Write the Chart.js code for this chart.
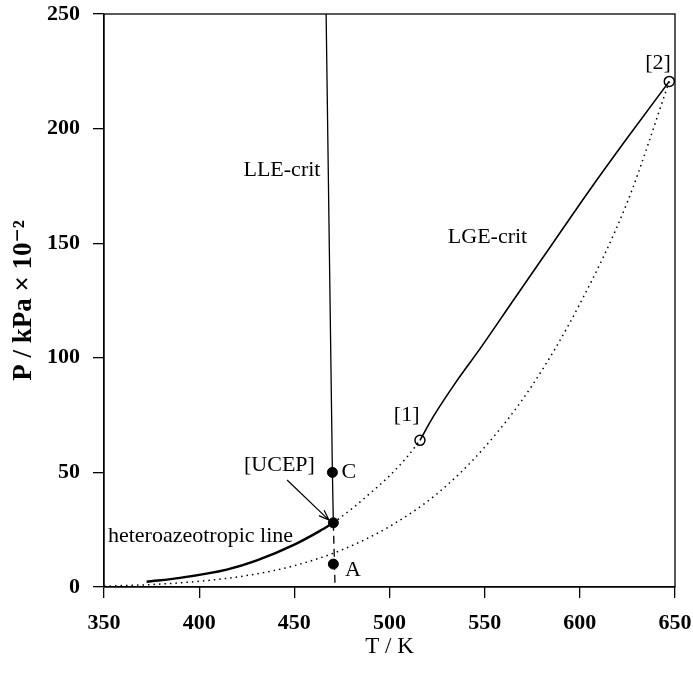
<!DOCTYPE html>
<html lang="en">
<head>
  <meta charset="UTF-8" />
  <title>P–T phase diagram</title>
  <script src="https://cdn.jsdelivr.net/npm/chart.js"></script>
  <style>
    body {
      margin: 0;
      padding: 0;
      background: #fff;
    }

    #chart-container {
      width: 693px;
      height: 673px;
    }
  </style>
</head>
<body>
  <div id="chart-container">
    <canvas id="ptChart" width="693" height="673"></canvas>
  </div>

  <script>
    // Axis ranges and ticks
    const xTicks = [350, 400, 450, 500, 550, 600, 650];
    const yTicks = [0, 50, 100, 150, 200, 250];

    // LLE critical line (solid above the UCEP, dashed below)
    const lleCritT = [466.7, 470.0, 470.5];
    const lleCritP = [250, 50, 28];
    const lleMetaT = [470.5, 471.4];
    const lleMetaP = [28, 0];

    // heteroazeotropic line, ends at the UCEP
    const heteroT = [372.4, 390, 414.5, 430, 450, 463.5, 470.5];
    const heteroP = [2.3, 4.0, 7.6, 11.5, 18.5, 24.5, 28];

    // vapour pressure curve of component 1 (UCEP -> [1])
    const vap1T = [470.5, 480, 490, 500, 510, 516];
    const vap1P = [28, 34, 41, 48.5, 57.5, 64];

    // vapour pressure curve of component 2 (-> [2])
    const vap2T = [350, 373, 400, 425, 450, 475, 500, 525, 550, 575, 600, 625, 647];
    const vap2P = [0.4, 1.0, 2.5, 5.0, 9.3, 16.2, 26.4, 40.7, 61, 88, 123.5, 168, 220.6];

    // LGE critical line from [1] to [2]
    const lgeCritT = [516, 523, 535, 547.6, 565, 585, 605, 625, 647];
    const lgeCritP = [64, 74.3, 89.5, 104, 125, 149, 173, 196, 220.6];

    // filled points: C, UCEP, A
    const filledT = [470.0, 470.5, 470.5];
    const filledP = [50, 28, 10];

    // open points: critical points [1] and [2]
    const openT = [516, 647];
    const openP = [64, 220.6];

    // text labels
    const labelText = ["LLE-crit", "LGE-crit", "[UCEP]", "C", "A", "[1]", "[2]", "heteroazeotropic line"];
    const labelT = [443.5, 551.5, 442.2, 478.7, 480.8, 509.0, 641.1, 400.7];
    const labelP = [182, 152.7, 53.2, 50.2, 7.4, 75, 228.6, 22.3];

    // arrow pointing at the UCEP
    const arrowT = [446.2, 468.2];
    const arrowP = [46.7, 29.2];

    const pts = (xs, ys) => xs.map((x, i) => ({ x: x, y: ys[i] }));
    const serif = "'Liberation Serif', 'DejaVu Serif', serif";

    const lineSet = (data, extra) => Object.assign({
      data: data,
      showLine: true,
      borderColor: "#000",
      borderWidth: 1.3,
      pointRadius: 0,
      fill: false,
      tension: 0,
    }, extra);

    // frame, labels and arrow
    const annotations = {
      id: "annotations",
      afterDatasetsDraw(chart) {
        const { ctx, chartArea: a, scales } = chart;
        const xs = scales.x, ys = scales.y;
        ctx.save();
        ctx.strokeStyle = "#000";
        ctx.lineWidth = 1.3;
        ctx.strokeRect(a.left, a.top, a.right - a.left, a.bottom - a.top);

        // arrow
        const x0 = xs.getPixelForValue(arrowT[0]), y0 = ys.getPixelForValue(arrowP[0]);
        const x1 = xs.getPixelForValue(arrowT[1]), y1 = ys.getPixelForValue(arrowP[1]);
        ctx.lineWidth = 1.2;
        ctx.beginPath();
        ctx.moveTo(x0, y0);
        ctx.lineTo(x1, y1);
        const ang = Math.atan2(y1 - y0, x1 - x0);
        const hl = 11, hw = 0.35;
        ctx.moveTo(x1 - hl * Math.cos(ang - hw), y1 - hl * Math.sin(ang - hw));
        ctx.lineTo(x1, y1);
        ctx.lineTo(x1 - hl * Math.cos(ang + hw), y1 - hl * Math.sin(ang + hw));
        ctx.stroke();

        ctx.fillStyle = "#000";
        ctx.font = "22px " + serif;
        ctx.textAlign = "center";
        ctx.textBaseline = "middle";
        labelText.forEach((t, i) => {
          ctx.fillText(t, xs.getPixelForValue(labelT[i]), ys.getPixelForValue(labelP[i]));
        });
        ctx.restore();
      },
    };

    new Chart(document.getElementById("ptChart").getContext("2d"), {
      type: "scatter",
      data: {
        datasets: [
          lineSet(pts(lleCritT, lleCritP)),
          lineSet(pts(lleMetaT, lleMetaP), { borderDash: [8, 5] }),
          lineSet(pts(heteroT, heteroP), { borderWidth: 2.4, cubicInterpolationMode: "monotone" }),
          lineSet(pts(vap1T, vap1P), { borderDash: [1.5, 4], borderWidth: 1.5, cubicInterpolationMode: "monotone" }),
          lineSet(pts(vap2T, vap2P), { borderDash: [1.5, 4], borderWidth: 1.5, cubicInterpolationMode: "monotone" }),
          lineSet(pts(lgeCritT, lgeCritP), { borderWidth: 1.6, cubicInterpolationMode: "monotone" }),
          {
            data: pts(filledT, filledP),
            pointRadius: 5,
            backgroundColor: "#000",
            borderColor: "#000",
          },
          {
            data: pts(openT, openP),
            pointRadius: 5,
            backgroundColor: "#fff",
            borderColor: "#000",
            borderWidth: 1.5,
          },
        ],
      },
      options: {
        responsive: false,
        animation: false,
        layout: { padding: { top: 14, right: 18, left: 0, bottom: 0 } },
        plugins: {
          legend: { display: false },
          tooltip: { enabled: false },
        },
        scales: {
          x: {
            type: "linear",
            min: 350,
            max: 650,
            afterBuildTicks: s => { s.ticks = xTicks.map(v => ({ value: v })); },
            afterFit: s => { s.height = 86; s.paddingLeft = 0; s.paddingRight = 0; },
            grid: { drawOnChartArea: false, tickLength: 11, color: "#000", lineWidth: 1.3 },
            border: { color: "#000", width: 1.3 },
            ticks: { color: "#000", padding: 12, font: { family: serif, size: 22, weight: "bold" } },
            title: {
              display: true,
              text: "T / K",
              color: "#000",
              padding: { top: 0, bottom: 12 },
              font: { family: serif, size: 23 },
            },
          },
          y: {
            type: "linear",
            min: 0,
            max: 250,
            afterBuildTicks: s => { s.ticks = yTicks.map(v => ({ value: v })); },
            afterFit: s => { s.width = 104; s.paddingTop = 0; s.paddingBottom = 0; },
            grid: { drawOnChartArea: false, tickLength: 11, color: "#000", lineWidth: 1.3 },
            border: { color: "#000", width: 1.3 },
            ticks: { color: "#000", padding: 13, font: { family: serif, size: 22, weight: "bold" } },
            title: {
              display: true,
              text: "P / kPa × 10⁻²",
              color: "#000",
              padding: { top: 8, bottom: 0 },
              font: { family: serif, size: 27, weight: "bold" },
            },
          },
        },
      },
      plugins: [annotations],
    });
  </script>
</body>
</html>
